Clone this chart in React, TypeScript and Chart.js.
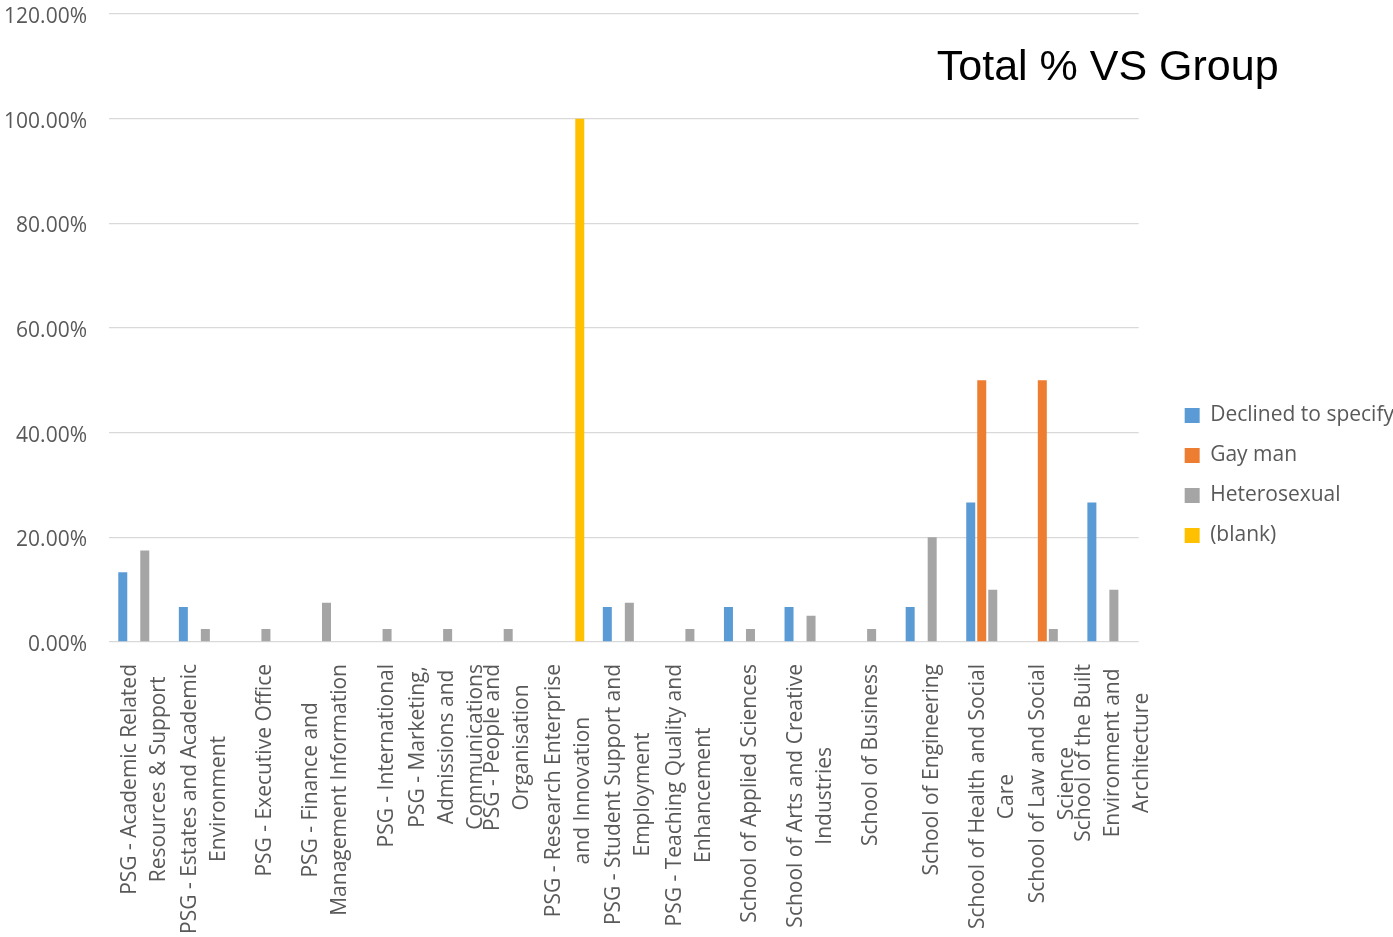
import { useEffect, useRef } from "react";
import { Chart, registerables } from "chart.js";

Chart.register(...registerables);

// Departments / schools (wrapped label lines)
const groups: string[][] = [
  ["PSG - Academic Related", "Resources & Support"],
  ["PSG - Estates and Academic", "Environment"],
  ["PSG - Executive Office"],
  ["PSG - Finance and", "Management Information"],
  ["PSG - International"],
  ["PSG - Marketing,", "Admissions and", "Communications"],
  ["PSG - People and", "Organisation"],
  ["PSG - Research Enterprise", "and Innovation"],
  ["PSG - Student Support and", "Employment"],
  ["PSG - Teaching Quality and", "Enhancement"],
  ["School of Applied Sciences"],
  ["School of Arts and Creative", "Industries"],
  ["School of Business"],
  ["School of Engineering"],
  ["School of Health and Social", "Care"],
  ["School of Law and Social", "Science"],
  ["School of the Built", "Environment and", "Architecture"],
];

// Share of each response group (%) by department
const declined = [13.33, 6.67, null, null, null, null, null, null, 6.67, null, 6.67, 6.67, null, 6.67, 26.67, null, 26.67];
const gayMan = [null, null, null, null, null, null, null, null, null, null, null, null, null, null, 50, 50, null];
const heterosexual = [17.5, 2.5, 2.5, 7.5, 2.5, 2.5, 2.5, null, 7.5, 2.5, 2.5, 5, 2.5, 20, 10, 2.5, 10];
const blank = [null, null, null, null, null, null, null, 100, null, null, null, null, null, null, null, null, null];

const yMax = 120;
const yStep = 20;

const chartTitle = "Total % VS Group";

const FONT = '"Open Sans", sans-serif';
const TEXT = "#595959";
const GRID = "#d9d9d9";

const groupLabels = {
  id: "groupLabels",
  afterDraw(chart: any) {
    const scale = chart.scales.x;
    const ctx = chart.ctx as CanvasRenderingContext2D;
    ctx.save();
    ctx.font = `21px ${FONT}`;
    ctx.fillStyle = TEXT;
    ctx.textAlign = "center";
    ctx.textBaseline = "middle";
    const lineH = 29;
    const gap = 22;
    groups.forEach((lines, i) => {
      const x = scale.getPixelForTick(i) + 5;
      const widest = Math.max(...lines.map((l) => ctx.measureText(l).width));
      lines.forEach((line, j) => {
        ctx.save();
        ctx.translate(x + (j - (lines.length - 1) / 2) * lineH, scale.top + gap + widest / 2);
        ctx.rotate(-Math.PI / 2);
        ctx.fillText(line, 0, 0);
        ctx.restore();
      });
    });

    // Chart heading, sitting inside the plot's upper right
    ctx.font = `43px "Liberation Sans", Arial, sans-serif`;
    ctx.fillStyle = "#000000";
    ctx.textAlign = "center";
    ctx.textBaseline = "alphabetic";
    ctx.fillText(chartTitle, chart.chartArea.right - 31, 80);
    ctx.restore();
  },
};

export default function App() {
  const ref = useRef<HTMLCanvasElement | null>(null);

  useEffect(() => {
    if (!ref.current) return;
    const chart = new Chart(ref.current, {
      type: "bar",
      data: {
        labels: groups,
        datasets: [
          { label: "Declined to specify", data: declined, backgroundColor: "#5B9BD5" },
          { label: "Gay man", data: gayMan, backgroundColor: "#ED7D31" },
          { label: "Heterosexual", data: heterosexual, backgroundColor: "#A5A5A5" },
          { label: "(blank)", data: blank, backgroundColor: "#FFC000" },
        ],
      },
      options: {
        responsive: false,
        animation: false,
        layout: { padding: { top: 14, right: -11, bottom: 0, left: 0 } },
        datasets: {
          bar: { categoryPercentage: 0.727, barPercentage: 0.818, borderWidth: 0 },
        },
        plugins: {
          title: { display: false },
          tooltip: { enabled: false },
          legend: {
            position: "right",
            align: "center",
            maxWidth: 320,
            labels: {
              font: { family: FONT, size: 21 },
              color: TEXT,
              boxWidth: 15,
              boxHeight: 15,
              padding: 19,
            },
          },
        },
        scales: {
          x: {
            grid: { display: false },
            border: { display: false },
            ticks: { display: false },
            afterFit: (s: any) => {
              s.height = 295;
            },
          },
          y: {
            min: 0,
            max: yMax,
            ticks: {
              stepSize: yStep,
              padding: 22,
              labelOffset: 3,
              color: TEXT,
              font: { family: FONT, size: 21 },
              callback: (v: any) => `${Number(v).toFixed(2)}%`,
            },
            grid: { color: GRID, lineWidth: 1.3, drawTicks: false },
            border: { display: false },
            afterFit: (s: any) => {
              s.width = 109;
              s.paddingTop = 0;
              s.paddingBottom = 0;
            },
          },
          gap: {
            type: "linear",
            position: "right",
            display: true,
            grid: { display: false },
            border: { display: false },
            ticks: { display: false },
            afterFit: (s: any) => {
              s.width = 27;
            },
          },
        },
      },
      plugins: [groupLabels],
    });
    return () => chart.destroy();
  }, []);

  return (
    <div style={{ position: "fixed", left: 0, top: 0, width: 1393, height: 937, background: "#ffffff" }}>
      <canvas ref={ref} width={1393} height={937} />
    </div>
  );
}
